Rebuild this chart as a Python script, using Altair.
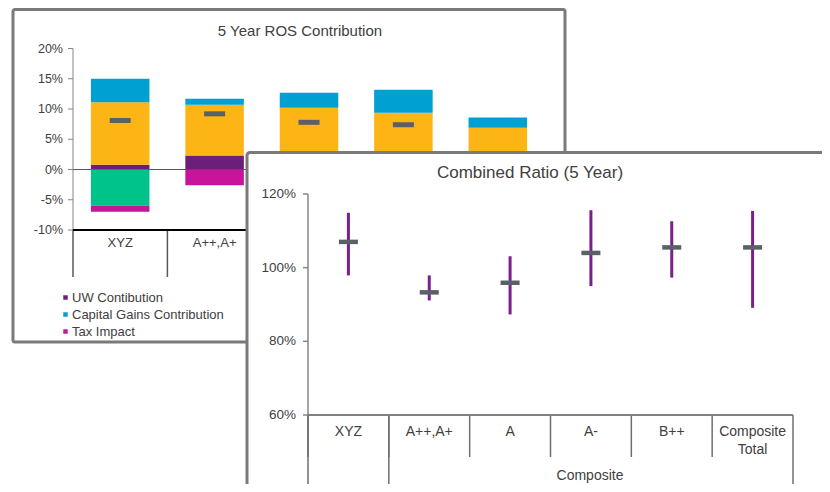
import altair as alt
import pandas as pd

FONT = "Liberation Sans"
TXT = "#404040"

# ---------------- back chart: 5 Year ROS Contribution ----------------
back_cats = ["XYZ", "A++,A+", "A", "A-", "B++"]
series = ["UW Contibution", "Investment Income Contribution",
          "Capital Gains Contribution", "Reserve Development", "Tax Impact"]
series_colors = ["#6D1E7A", "#FDB515", "#00A0D2", "#00C389", "#C7149A"]
uw = [0.8, 2.3, 1.5, 1.0, 1.2]
inv = [10.3, 8.4, 8.7, 8.4, 5.7]
capg = [3.9, 1.0, 2.5, 3.8, 1.7]
other = [-6.0, 0.0, -2.4, -3.2, -4.5]
tax = [-1.0, -2.6, -2.5, -2.6, -2.0]
ros_total = [8.1, 9.2, 7.8, 7.4, 2.0]
legend_shown = ["UW Contibution", "Capital Gains Contribution", "Tax Impact"]
back_yticks = [-10, -5, 0, 5, 10, 15, 20]
back_ylabels = ["-10%", "-5%", "0%", "5%", "10%", "15%", "20%"]

# ---------------- front chart: Combined Ratio (5 Year) ----------------
front_cats = ["XYZ", "A++,A+", "A", "A-", "B++", "Composite Total"]
front_xlabels = ["XYZ", "A++,A+", "A", "A-", "B++", "Composite\nTotal"]
cr_low = [97.9, 91.1, 87.3, 95.0, 97.3, 89.1]
cr_high = [114.9, 97.9, 103.1, 115.6, 112.6, 115.4]
cr_mid = [107.0, 93.3, 95.9, 104.0, 105.5, 105.5]
front_yticks = [60, 80, 100, 120]
front_ylabels = ["60%", "80%", "100%", "120%"]
group_cats = ["A++,A+", "A", "A-", "B++", "Composite Total"]

# ---------------- tables ----------------
rows = []
for k, (name, vals) in enumerate(zip(series, [uw, inv, capg, other, tax])):
    for c, v in zip(back_cats, vals):
        rows.append({"cat": c, "series": name, "value": v, "ord": k})
ros_df = pd.DataFrame(rows)
tot_df = pd.DataFrame({"cat": back_cats, "total": ros_total})
cr_df = pd.DataFrame({"cat": front_cats, "low": cr_low, "high": cr_high, "mid": cr_mid,
                      "lab": front_xlabels})
one = pd.DataFrame({"k": [0]})
b_yt = pd.DataFrame({"v": back_yticks, "lab": back_ylabels})
b_rng = pd.DataFrame({"lo": [back_yticks[0]], "hi": [back_yticks[-1]], "zero": [0]})
b_cat = pd.DataFrame({"cat": back_cats})
f_yt = pd.DataFrame({"v": front_yticks, "lab": front_ylabels})
f_rng = pd.DataFrame({"lo": [front_yticks[0]], "hi": [front_yticks[-1]]})
f_long_l = pd.DataFrame({"cat": [front_cats[0], group_cats[0]]})
f_long_r = pd.DataFrame({"cat": [front_cats[-1]]})

# ---------------- back layer ----------------
bx = alt.Scale(domain=back_cats, range=[65, 537], paddingInner=0, paddingOuter=0)
by = alt.Scale(domain=[-10, 20], range=[222, 40.5], nice=False, zero=False)


def BX(field="cat:N", **kw):
    return alt.X(field, scale=bx, sort=back_cats, axis=None, **kw)


def BY(field, **kw):
    return alt.Y(field, scale=by, axis=None, **kw)


back_frame = alt.Chart(one).mark_rect(
    fillOpacity=0, stroke="#7a7a7a", strokeWidth=3, cornerRadius=2
).encode(x=alt.value(5), x2=alt.value(557), y=alt.value(1.5), y2=alt.value(334))

back_title = alt.Chart(one).mark_text(
    text="5 Year ROS Contribution", font=FONT, fontSize=15, color=TXT,
    align="center", baseline="middle"
).encode(x=alt.value(292), y=alt.value(23))

b_zero = alt.Chart(b_rng).mark_rule(color="#595959", strokeWidth=1).encode(
    y=BY("zero:Q"), x=alt.value(65), x2=alt.value(537))

bars = alt.Chart(ros_df).mark_bar(width=alt.RelativeBandSize(0.62)).encode(
    x=BX(),
    y=alt.Y("value:Q", scale=by, stack="zero", axis=None),
    color=alt.Color("series:N", scale=alt.Scale(domain=series, range=series_colors),
                    legend=alt.Legend(orient="none", legendX=51, legendY=283, title=None,
                                      values=legend_shown, symbolType="square", symbolSize=20,
                                      labelFont=FONT, labelFontSize=13, labelColor=TXT,
                                      rowPadding=3, padding=0, labelOffset=0)),
    order=alt.Order("ord:Q"),
)

back_marks = alt.Chart(tot_df).mark_tick(
    orient="horizontal", size=21, thickness=5, color="#5B5F66", opacity=1
).encode(x=BX(), y=BY("total:Q"))

# manual axes (back)
b_ydom = alt.Chart(b_rng).mark_rule(color="#868686", strokeWidth=1).encode(
    x=alt.value(65), y=BY("lo:Q"), y2="hi:Q")
b_ytick = alt.Chart(b_yt).mark_rule(color="#868686", strokeWidth=1).encode(
    x=alt.value(60), x2=alt.value(65), y=BY("v:Q"))
b_ylab = alt.Chart(b_yt).mark_text(
    font=FONT, fontSize=12.5, color=TXT, align="right", baseline="middle"
).encode(x=alt.value(55), y=BY("v:Q"), text="lab:N")
b_xsep = alt.Chart(b_cat).mark_rule(color="#595959", strokeWidth=1.5).encode(
    x=BX(bandPosition=0), y=alt.value(222), y2=alt.value(269))
b_xdom = alt.Chart(b_rng).mark_rule(color="black", strokeWidth=2).encode(
    y=BY("lo:Q"), x=alt.value(65), x2=alt.value(537))
b_xlab = alt.Chart(b_cat).mark_text(
    font=FONT, fontSize=13, color=TXT, align="center", baseline="middle"
).encode(x=BX(), y=alt.value(235), text="cat:N")

back = alt.layer(back_frame, back_title, b_zero, bars, back_marks,
                 b_ydom, b_ytick, b_ylab, b_xsep, b_xdom, b_xlab)

# ---------------- front layer ----------------
fx = alt.Scale(domain=front_cats, range=[300, 785], paddingInner=0, paddingOuter=0)
fy = alt.Scale(domain=[60, 120], range=[407, 186], nice=False, zero=False)


def FX(field="cat:N", **kw):
    return alt.X(field, scale=fx, sort=front_cats, axis=None, **kw)


def FY(field, **kw):
    return alt.Y(field, scale=fy, axis=None, **kw)


front_frame = alt.Chart(one).mark_rect(
    fill="white", stroke="#7a7a7a", strokeWidth=3, cornerRadius=3
).encode(x=alt.value(239), x2=alt.value(818), y=alt.value(144.5), y2=alt.value(520))

front_title = alt.Chart(one).mark_text(
    text="Combined Ratio (5 Year)", font=FONT, fontSize=17, color=TXT,
    align="center", baseline="middle"
).encode(x=alt.value(522), y=alt.value(165))

f_ydom = alt.Chart(f_rng).mark_rule(color="#868686", strokeWidth=1.5).encode(
    x=alt.value(300), y=FY("lo:Q"), y2="hi:Q")
f_ytick = alt.Chart(f_yt).mark_rule(color="#868686", strokeWidth=1.5).encode(
    x=alt.value(295), x2=alt.value(300), y=FY("v:Q"))
f_ylab = alt.Chart(f_yt).mark_text(
    font=FONT, fontSize=13.5, color=TXT, align="right", baseline="middle"
).encode(x=alt.value(288), y=FY("v:Q"), text="lab:N")

f_xsep = alt.Chart(cr_df).mark_rule(color="#6f6f6f", strokeWidth=1.5).encode(
    x=FX(bandPosition=0), y=alt.value(407), y2=alt.value(449))
f_long_a = alt.Chart(f_long_l).mark_rule(color="#6f6f6f", strokeWidth=1.5).encode(
    x=FX(bandPosition=0), y=alt.value(407), y2=alt.value(476))
f_long_b = alt.Chart(f_long_r).mark_rule(color="#6f6f6f", strokeWidth=1.5).encode(
    x=FX(bandPosition=1), y=alt.value(407), y2=alt.value(476))
f_xdom = alt.Chart(f_rng).mark_rule(color="#7f7f7f", strokeWidth=2).encode(
    y=FY("lo:Q"), x=alt.value(300), x2=alt.value(785))
f_xlab = alt.Chart(cr_df).mark_text(
    font=FONT, fontSize=14, color=TXT, align="center", baseline="top",
    lineBreak="\n", lineHeight=18
).encode(x=FX(), y=alt.value(417), text="lab:N")

group_label = alt.Chart(one).mark_text(
    text="Composite", font=FONT, fontSize=14, color=TXT, align="center", baseline="middle"
).encode(x=alt.value(582), y=alt.value(468))

ranges = alt.Chart(cr_df).mark_rule(color="#7A1F8E", strokeWidth=3).encode(
    x=FX(), y=FY("low:Q"), y2="high:Q")

front_marks = alt.Chart(cr_df).mark_tick(
    orient="horizontal", size=19, thickness=4.5, color="#5B5F66", opacity=1
).encode(x=FX(), y=FY("mid:Q"))

front = alt.layer(front_frame, front_title, f_ydom, f_ytick, f_ylab, f_xsep, f_long_a,
                  f_long_b, f_xdom, f_xlab, group_label, ranges, front_marks)

chart = alt.layer(back, front).resolve_scale(
    x="independent", y="independent"
).properties(
    width=814, height=476, autosize="none", padding=0
).configure(font=FONT).configure_view(stroke=None)

chart.save("out.html", embed_options={"renderer": "svg", "actions": False})
